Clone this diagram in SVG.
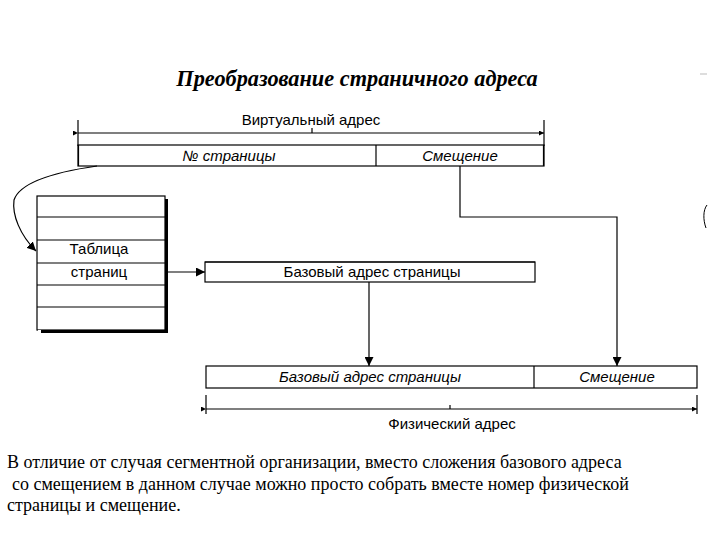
<svg xmlns="http://www.w3.org/2000/svg" width="720" height="540" viewBox="0 0 720 540">
<style>
.box{fill:#fff;stroke:#000;stroke-width:1.2}
.ln{fill:none;stroke:#000;stroke-width:1.2}
.lbl{font-family:"Liberation Sans",Arial,sans-serif;font-size:15px;fill:#000;text-anchor:middle}
.it{font-style:italic}
.title{font-family:"Liberation Serif","Times New Roman",serif;font-size:22.3px;font-weight:bold;font-style:italic;fill:#000;text-anchor:middle}
.body{font-family:"Liberation Serif","Times New Roman",serif;font-size:18px;fill:#000}
</style>
<defs>
<marker id="ah" viewBox="0 0 10 10" refX="10" refY="5" markerWidth="9" markerHeight="9" markerUnits="userSpaceOnUse" orient="auto">
<path d="M0,0 L10,5 L0,10 z" fill="#000"/>
</marker>
<marker id="ahs" viewBox="0 0 10 10" refX="10" refY="5" markerWidth="5" markerHeight="5" markerUnits="userSpaceOnUse" orient="auto">
<path d="M0,0 L10,5 L0,10 z" fill="#000"/>
</marker>
</defs>
<rect width="720" height="540" fill="#fff"/>
<text class="title" x="357" y="86">Преобразование страничного адреса</text>

<g id="virtual-address">
<line class="ln" x1="78" y1="120" x2="78" y2="146" stroke-width="2"/>
<line class="ln" x1="544" y1="120" x2="544" y2="146"/>
<line class="ln" x1="78" y1="133" x2="544" y2="133" marker-start="url(#ahs)" marker-end="url(#ahs)"/>
<line class="ln" x1="312" y1="128" x2="312" y2="133"/>
<text class="lbl" x="311" y="125">Виртуальный адрес</text>
<rect class="box" x="78" y="145" width="466" height="21"/>
<line class="ln" x1="543.5" y1="145" x2="543.5" y2="166" stroke-width="2.5"/>
<line class="ln" x1="78.5" y1="145" x2="78.5" y2="166" stroke-width="2"/>
<line class="ln" x1="376" y1="145" x2="376" y2="166"/>
<text class="lbl it" x="229" y="161">№ страницы</text>
<text class="lbl it" x="460" y="161">Смещение</text>
</g>

<g id="page-table">
<rect x="40" y="199" width="128" height="134" fill="#000"/>
<rect class="box" x="37" y="196" width="128" height="134"/>
<line class="ln" x1="37" y1="217" x2="165" y2="217" stroke-width="2"/>
<line class="ln" x1="37" y1="240" x2="165" y2="240"/>
<line class="ln" x1="37" y1="263" x2="165" y2="263" stroke-width="2"/>
<line class="ln" x1="37" y1="285" x2="165" y2="285"/>
<line class="ln" x1="37" y1="307" x2="165" y2="307"/>
<rect x="38" y="330" width="3" height="3" fill="#fff"/>
<text class="lbl" x="99" y="254">Таблица</text>
<text class="lbl" x="99" y="277">страниц</text>
</g>

<g id="base-address">
<rect class="box" x="205" y="262" width="330" height="20"/>
<line class="ln" x1="205" y1="262" x2="535" y2="262" stroke-width="2"/>
<text class="lbl" x="372" y="277">Базовый адрес страницы</text>
</g>

<g id="physical-address">
<rect class="box" x="206" y="366" width="491" height="22"/>
<line class="ln" x1="534" y1="366" x2="534" y2="388"/>
<text class="lbl it" x="370" y="382">Базовый адрес страницы</text>
<text class="lbl it" x="617" y="382">Смещение</text>
<line class="ln" x1="206" y1="395" x2="206" y2="414"/>
<line class="ln" x1="697" y1="395" x2="697" y2="414"/>
<line class="ln" x1="206" y1="409" x2="697" y2="409" marker-start="url(#ahs)" marker-end="url(#ahs)"/>
<line class="ln" x1="450" y1="405" x2="450" y2="409"/>
<text class="lbl" x="452" y="429">Физический адрес</text>
</g>

<g id="connectors">
<path class="ln" d="M97,166 C55,172 20,182 14,200 C12,215 20,235 36,251" marker-end="url(#ah)" stroke-width="1"/>
<line class="ln" x1="168" y1="272" x2="205" y2="272" marker-end="url(#ah)"/>
<line class="ln" x1="369" y1="282" x2="369" y2="366" marker-end="url(#ah)"/>
<polyline class="ln" points="460,166 460,217 617,217 617,366" marker-end="url(#ah)"/>
</g>

<path d="M707,205 C703,210 703,220 706,228" fill="none" stroke="#000" stroke-width="1"/>
<line x1="700" y1="74" x2="707" y2="74" stroke="#bbb" stroke-width="1"/>

<g id="caption">
<text class="body" x="7" y="468">В отличие от случая сегментной организации, вместо сложения базового адреса</text>
<text class="body" x="12" y="490">со смещением в данном случае можно просто собрать вместе номер физической</text>
<text class="body" x="7" y="511">страницы и смещение.</text>
</g>
</svg>
